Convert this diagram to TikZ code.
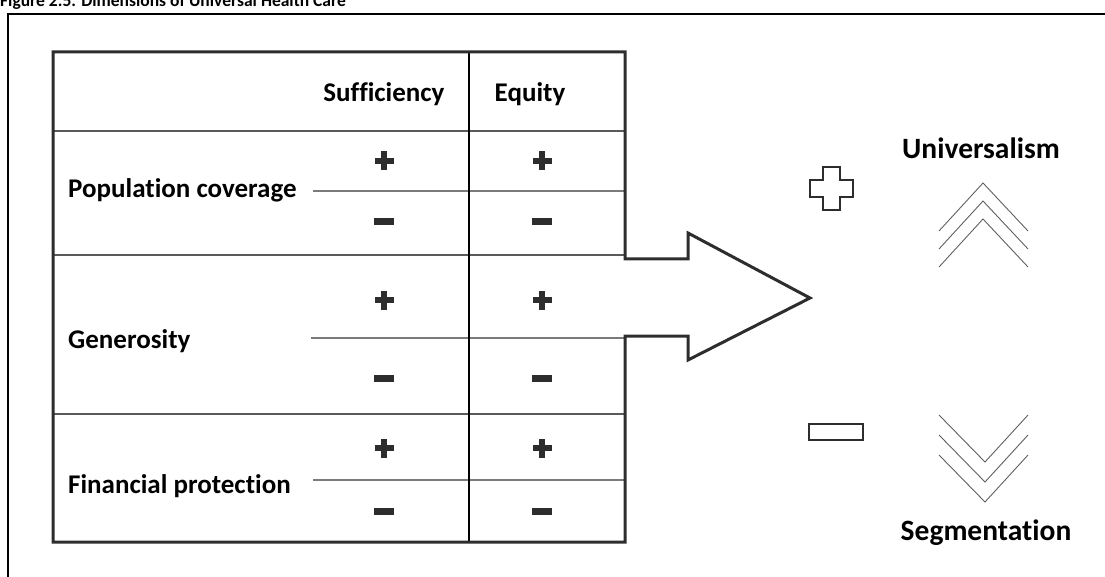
\documentclass[tikz,border=0pt]{standalone}
\usepackage{fontspec}
\setmainfont{Carlito}[Ligatures=NoCommon]
\usetikzlibrary{positioning,calc}
\definecolor{darkline}{RGB}{45,45,45}
\definecolor{gridgray}{RGB}{90,90,90}
\definecolor{chevgray}{RGB}{95,95,95}

\tikzset{
    heading/.style={font=\bfseries\fontsize{27}{32}\selectfont, inner sep=0pt},
    sidename/.style={font=\bfseries\fontsize{29.5}{34}\selectfont, inner sep=0pt, anchor=base},
    rowname/.style={font=\bfseries\fontsize{27}{32}\selectfont, inner sep=0pt, anchor=base west},
    outline/.style={line width=3pt, draw=darkline, line join=miter},
    rowline/.style={line width=1.8pt, draw=gridgray},
    subline/.style={line width=1.4pt, draw=gridgray!80},
    chevron/.style={line width=0.9pt, draw=chevgray},
    plussign/.pic={
        \fill[darkline] (-9.5,-3) rectangle (9.5,3);
        \fill[darkline] (-3,-9.5) rectangle (3,9.5);
    },
    minussign/.pic={
        \fill[darkline] (-10,-3.5) rectangle (10,3.5);
    }
}

\begin{document}
\begin{tikzpicture}[x=1pt, y=-1pt]
    \useasboundingbox (0,0) rectangle (1105,577);
    \clip (0,0) rectangle (1105,577);

    % caption and frame
    \node[anchor=base west, inner sep=0pt, font=\bfseries\fontsize{17.5}{21}\selectfont] (caption) at (0,7)
        {Figure 2.5. Dimensions of Universal Health Care};
    \draw[line width=1.3pt] (8,600) -- (8,14) -- (1120,14);

    % table corners and arrow
    \coordinate (tl) at (53,52);
    \coordinate (br) at (625,542);
    \coordinate (tip) at (810,298);
    \draw[rowline] (tl |- 0,131) -- (br |- 0,131);
    \draw[rowline] (tl |- 0,255) -- (br |- 0,255);
    \draw[rowline] (tl |- 0,414) -- (br |- 0,414);
    \draw[subline] (313,191) -- (br |- 0,191);
    \draw[subline] (311,338) -- (br |- 0,338);
    \draw[subline] (313,480) -- (br |- 0,480);
    \draw[line width=1.2pt] (469,52) -- (469,542);
    \draw[outline] (br |- 0,259) -- (br |- tl) -- (tl) -- (tl |- br) -- (br) -- (br |- 0,336)
        -- (688,336) -- (688,360) -- (tip) -- (688,233) -- (688,259) -- cycle;

    % headings
    \node[heading] (suff) at (384,94) {Sufficiency};
    \node[heading] (equi) at (530,94) {Equity};

    \node[rowname] (popcov) at (68,198) {Population coverage};
    \node[rowname] (gener) at (68,348) {Generosity};
    \node[rowname] (finpro) at (68,493) {Financial protection};

    % plus and minus marks per row
    \foreach \yp/\ym in {161/222, 300/378, 448/511} {
        \pic at (384,\yp) {plussign};
        \pic at (542,\yp) {plussign};
        \pic at (384,\ym) {minussign};
        \pic at (542,\ym) {minussign};
    }

    % right side
    \draw[line width=2.4pt, draw=darkline] (823,167) -- (840,167) -- (840,180) -- (853,180) -- (853,197)
        -- (840,197) -- (840,210) -- (823,210) -- (823,197) -- (810,197) -- (810,180) -- (823,180) -- cycle;
    \draw[line width=2.4pt, draw=darkline] (809,424) rectangle (863,440);

    \node[sidename] (univ) at (981,159) {Universalism};
    \node[sidename] (segm) at (986,540) {Segmentation};

    \foreach \dy in {0,18,36}
        \draw[chevron] (939,231+\dy) -- (983,183+\dy) -- (1028,231+\dy);
    \foreach \dy in {0,20,40}
        \draw[chevron] (939,415+\dy) -- (985,462+\dy) -- (1028,415+\dy);
\end{tikzpicture}
\end{document}
